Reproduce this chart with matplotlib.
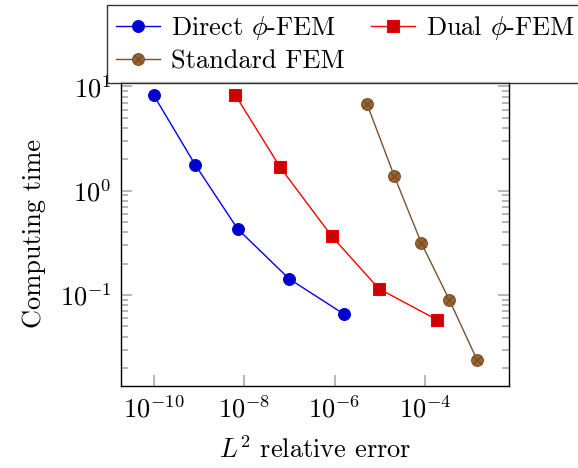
import matplotlib
matplotlib.use("Agg")
import matplotlib.pyplot as plt
from matplotlib.ticker import LogLocator, FixedLocator, NullLocator
from matplotlib.lines import Line2D

plt.rcParams['font.family'] = 'serif'
plt.rcParams['font.serif'] = ['cmr10']
plt.rcParams['mathtext.fontset'] = 'cm'
plt.rcParams['axes.formatter.use_mathtext'] = True

direct_err = [1.0e-10, 8.4e-10, 7.2e-9, 9.9e-8, 1.6e-6]
direct_time = [8.27, 1.76, 0.43, 0.143, 0.0657]
dual_err = [6.4e-9, 6.25e-8, 8.7e-7, 9.5e-6, 1.82e-4]
dual_time = [8.27, 1.68, 0.365, 0.115, 0.058]
std_err = [5.2e-6, 2.07e-5, 8.3e-5, 3.44e-4, 1.41e-3]
std_time = [6.78, 1.39, 0.313, 0.0895, 0.0238]

labels = [r'Direct $\phi$-FEM', r'Dual $\phi$-FEM', 'Standard FEM']
xticks = [1e-10, 1e-8, 1e-6, 1e-4]
xticklabels = [r'$10^{-10}$', r'$10^{-8}$', r'$10^{-6}$', r'$10^{-4}$']

W, H = 578, 468
fig = plt.figure(figsize=(W/100, H/100), dpi=100)
ax = fig.add_axes([121/W, 1-386/H, (509.3-121)/W, (386-81.7)/H])

fs = 19
l1, = ax.plot(direct_err, direct_time, color='#0000ff', lw=1.0, marker='o', ms=8.5,
              mfc='#0000cc', mec='#0000e0', mew=0.8)
l2, = ax.plot(dual_err, dual_time, color='#ff0000', lw=1.0, marker='s', ms=8.5,
              mfc='#cc0000', mec='#ee0000', mew=0.8)
l3, = ax.plot(std_err, std_time, color='#7a5230', lw=1.0, marker='o', ms=8.5,
              mfc='#99632e', mec='#7a5230', mew=0.8)
# otimes cross marks
ax.plot(std_err, std_time, ls='none', marker='x', ms=5.5, mec='#6b4423', mew=0.7)

ax.set_xscale('log')
ax.set_yscale('log')
ax.set_xlim(10**-10.72, 10**-2.14)
ax.set_ylim(10**-1.872, 10**1.045)

ax.xaxis.set_major_locator(FixedLocator(xticks))
ax.set_xticklabels(xticklabels)
ax.xaxis.set_minor_locator(NullLocator())
ax.yaxis.set_major_locator(LogLocator(base=10, numticks=10))
ax.yaxis.set_minor_locator(LogLocator(base=10, subs=range(2, 10), numticks=20))

ax.tick_params(axis='both', which='major', direction='in', length=8, width=1.3,
               color='#b0b0b0', labelsize=fs, pad=7)
ax.tick_params(axis='both', which='minor', direction='in', length=5, width=1.3,
               color='#b0b0b0')
ax.tick_params(axis='y', which='both', left=True, right=True)
ax.tick_params(axis='x', which='both', top=False, bottom=True)
for s in ax.spines.values():
    s.set_linewidth(1.0)

ax.set_xlabel(r'$L^2$ relative error', fontsize=fs, labelpad=10)
ax.set_ylabel('Computing time', fontsize=fs, labelpad=10)

h3 = (l3, Line2D([], [], ls='none', marker='x', ms=5.5, mec='#6b4423', mew=0.7))
handles = [l1, h3, l2]
leg_labels = [labels[0], labels[2], labels[1]]
leg = fig.legend(handles, leg_labels, ncol=2, fontsize=fs,
                 loc='upper left', bbox_to_anchor=(106.7/W, 1-5/H),
                 frameon=True, fancybox=False, edgecolor='black',
                 handlelength=1.67, handletextpad=0.42, columnspacing=1.0,
                 borderpad=0.35, labelspacing=0.28, borderaxespad=0)
leg.get_frame().set_linewidth(1.0)

fig.savefig('out.png', dpi=100)
